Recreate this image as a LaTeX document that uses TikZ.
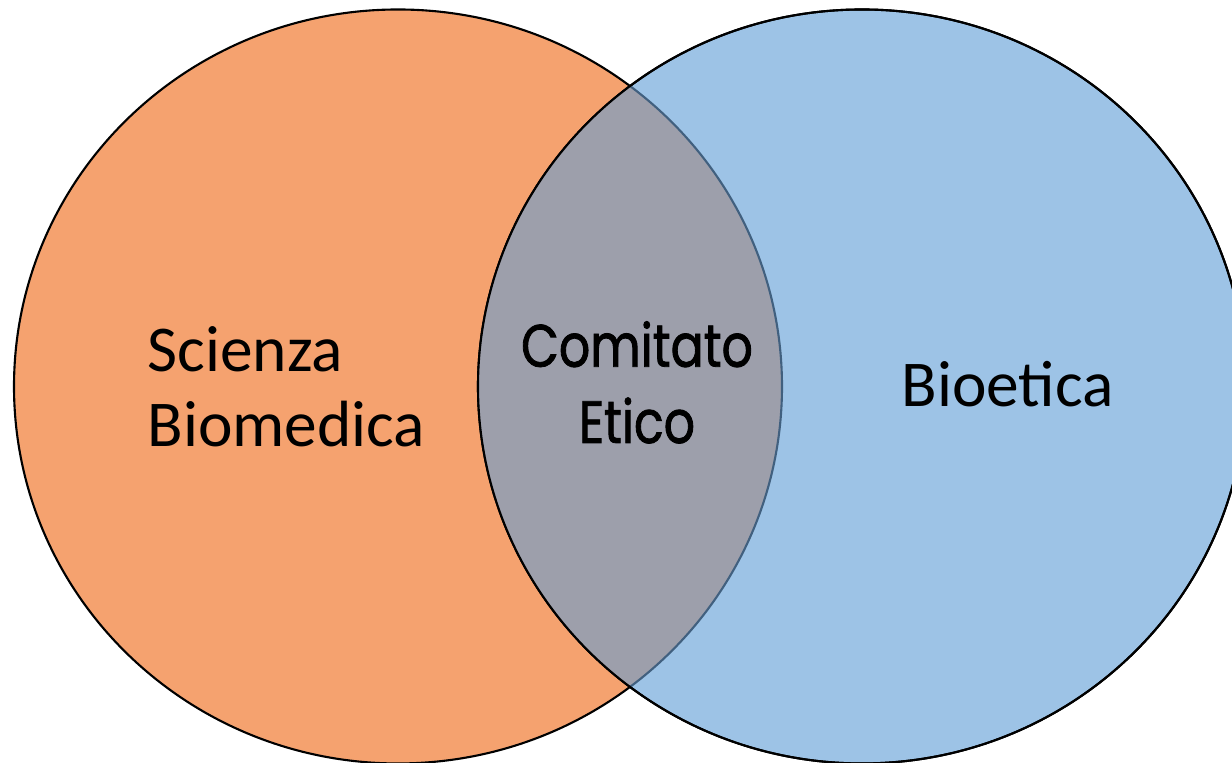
\documentclass[tikz,border=0pt]{standalone}
\usepackage{fontspec}
\setmainfont{Carlito}
\newfontfamily\eticofont[FakeStretch=0.82,FakeBold=1.4]{Poppins}

\definecolor{scienza}{HTML}{F5A26F}
\definecolor{bioetica}{HTML}{9DC3E6}
\definecolor{comitato}{HTML}{9D9FAB}
\definecolor{bordo}{HTML}{41607F}

\begin{document}
\begin{tikzpicture}[
        cerchio/.style={line width=0.6pt},
        testo/.style={inner sep=0pt, font=\fontsize{18.6}{21.5}\selectfont},
    ]
        \useasboundingbox (0,0) rectangle (12.32,7.63);

        \filldraw[cerchio, fill=scienza, draw=black] (3.98,3.765) ellipse (3.84 and 3.77);
        
        \filldraw[cerchio, fill=bioetica, draw=black] (8.62,3.765) ellipse (3.84 and 3.77);

        % parte comune
        \begin{scope}
            \clip (8.62,3.765) ellipse (3.84 and 3.77);
            \filldraw[cerchio, fill=comitato, draw=bordo] (3.98,3.765) ellipse (3.84 and 3.77);
        \end{scope}
        
        \draw[cerchio, black] (8.62,3.765) ellipse (3.84 and 3.77);

        \node[testo, anchor=base west, align=left] (scienza) at (1.47,3.16) {Scienza\\Biomedica};
        \node[testo, anchor=base west] (bioetica) at (9.01,3.56) {Bioetica};
        \node[testo, anchor=base, align=center, font=\eticofont\fontsize{17}{21.7}\selectfont] (comitato) at (6.37,3.20) {Comitato\\Etico};
    \end{tikzpicture}
\end{document}
